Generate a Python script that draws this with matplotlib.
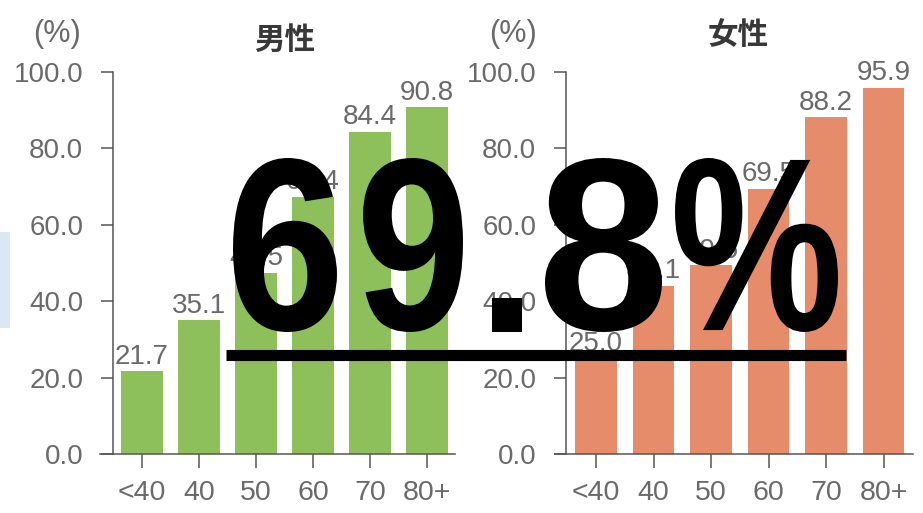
import matplotlib
matplotlib.use("Agg")
import matplotlib.pyplot as plt
from matplotlib.textpath import TextPath
from matplotlib.font_manager import FontProperties
from matplotlib.patches import PathPatch, Rectangle
from matplotlib.lines import Line2D
from matplotlib.transforms import Affine2D

plt.rcParams['font.family'] = ['Liberation Sans', 'Noto Sans CJK JP', 'DejaVu Sans']

# data
age_groups = ['<40', '40', '50', '60', '70', '80+']
male_rate = [21.7, 35.1, 47.5, 67.4, 84.4, 90.8]
female_rate = [25.0, 44.1, 49.5, 69.5, 88.2, 95.9]
y_ticks = [0, 20, 40, 60, 80, 100]
headline = "69.8%"

W, H = 923, 513
GREEN = '#8dc05b'
SALMON = '#e68c6a'
GRAY = '#6a6a6a'
AXIS = '#555555'


def fx(px):
    return px / W


def fy(py):
    return 1 - py / H


fig = plt.figure(figsize=(W / 100, H / 100), dpi=100)
fig.patch.set_facecolor('white')


def make_panel(left_px, right_px, spine_px, first_px, step_px, values, color,
               title, title_xy, unit_xy):
    ax = fig.add_axes([fx(left_px), fy(454), fx(right_px - left_px), 382 / H])
    ax.set_facecolor('none')
    x = list(range(len(values)))
    bars = ax.bar(x, values, width=0.73, color=color, zorder=2)
    ax.bar_label(bars, labels=[f"{v:.1f}" for v in values], padding=1,
                 fontsize=20, color=GRAY, clip_on=False)
    ax.set_xlim((left_px - first_px) / step_px, (right_px - first_px) / step_px)
    ax.set_ylim(0, 100)
    ax.set_xticks(x)
    ax.set_xticklabels(age_groups)
    ax.set_yticks(y_ticks)
    ax.set_yticklabels([f"{t:.1f}" for t in y_ticks])
    for s in ('top', 'right'):
        ax.spines[s].set_visible(False)
    ax.spines['left'].set_position(('data', (spine_px - first_px) / step_px))
    ax.spines['left'].set_bounds(0, 100)
    for s in ('left', 'bottom'):
        ax.spines[s].set_color(AXIS)
        ax.spines[s].set_linewidth(1.1)
    ax.tick_params(axis='y', length=8.5, width=1.1, color=AXIS, pad=13,
                   labelsize=20, labelcolor=GRAY)
    ax.tick_params(axis='x', length=10, width=1.1, color=AXIS, pad=9,
                   labelsize=20.5, labelcolor=GRAY)
    fig.text(fx(title_xy[0]), fy(title_xy[1]), title, ha='center', va='center',
             fontsize=22, fontweight='bold', color='#383838',
             family=['Noto Sans CJK JP', 'DejaVu Sans'])
    fig.text(fx(unit_xy[0]), fy(unit_xy[1]), "(%)", ha='center', va='center',
             fontsize=22, color=GRAY)
    return ax


make_panel(100, 455, 113, 142, 57.0, male_rate, GREEN, "男性", (285, 40), (57, 34))
make_panel(555, 913, 566, 596, 57.5, female_rate, SALMON, "女性", (738, 35), (513, 34))

# pale blue strip at the left edge
fig.add_artist(Rectangle((0, fy(328)), fx(10), 96 / H, transform=fig.transFigure,
                         facecolor='#dae7f5', edgecolor='none'))

# big overlay number: each glyph fitted to its ink box (left, right, top, bottom px)
glyph_boxes = [(233, 337, 158, 332), (363, 463, 158, 332), (492, 522, 298, 332),
               (545, 662, 158, 332), (675, 838, 158, 332)]
bold = FontProperties(family='Liberation Sans', weight='bold')
for ch, (gx0, gx1, gtop, gbot) in zip(headline, glyph_boxes):
    tp = TextPath((0, 0), ch, size=100, prop=bold)
    ext = tp.get_extents()
    tr = (Affine2D().translate(-ext.x0, -ext.y0)
          .scale((gx1 - gx0) / ext.width, (gbot - gtop) / ext.height)
          .translate(gx0, H - gbot)
          .scale(1 / W, 1 / H)) + fig.transFigure
    fig.add_artist(PathPatch(tp, transform=tr, facecolor='black',
                             edgecolor='none', zorder=5))

fig.add_artist(Line2D([fx(226), fx(846)], [fy(355), fy(355)], transform=fig.transFigure,
                      color='black', linewidth=8, solid_capstyle='butt', zorder=5))

fig.savefig('out.png', dpi=100, facecolor='white')
